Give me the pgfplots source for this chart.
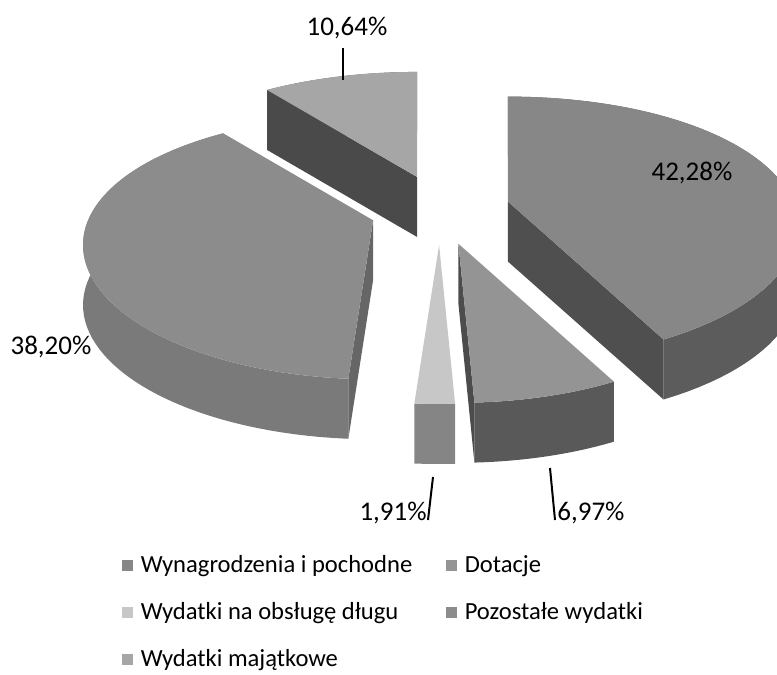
\documentclass[border=0pt]{standalone}
\usepackage{pgfplots}
\pgfplotsset{compat=1.18}
\usepackage{pgfplotstable}
\usepackage{fontspec}
\setmainfont{Carlito}

\definecolor{top0}{gray}{0.53}\definecolor{out0}{gray}{0.36}\definecolor{rad0}{gray}{0.31}
\definecolor{top1}{gray}{0.58}\definecolor{out1}{gray}{0.35}\definecolor{rad1}{gray}{0.30}
\definecolor{top2}{gray}{0.78}\definecolor{out2}{gray}{0.52}\definecolor{rad2}{gray}{0.45}
\definecolor{top3}{gray}{0.55}\definecolor{out3}{gray}{0.48}\definecolor{rad3}{gray}{0.40}
\definecolor{top4}{gray}{0.65}\definecolor{out4}{gray}{0.36}\definecolor{rad4}{gray}{0.29}

% shares of the expenditure (percent)
\pgfplotstableread{
idx value
0 42.28
1 6.97
2 1.91
3 38.20
4 10.64
}\piedata

\def\PCX{440}\def\PCY{210}\def\PEX{70}\def\PEY{35}\def\PD{60}

\pgfplotsset{sq/.style={legend image code/.code={\fill[##1, draw=none] (0pt,-2.6pt) rectangle (5.2pt,2.6pt);}}}

\begin{document}
\begin{tikzpicture}
\begin{axis}[
  scale only axis, width=388.5pt, height=337.5pt,
  xmin=0, xmax=777, ymin=0, ymax=675, y dir=reverse,
  hide axis, clip=true,
  legend cell align=left,
  legend style={at={(axis cs:116,547)}, anchor=north west, draw=none, fill=none,
    font=\fontsize{12.3}{14}\selectfont, legend columns=2, row sep=9.5pt,
    /tikz/every odd column/.append style={column sep=2pt},
    /tikz/every even column/.append style={column sep=15pt}},
]
\addlegendimage{sq, fill=top0}\addlegendentry{Wynagrodzenia i pochodne}
\addlegendimage{sq, fill=top1}\addlegendentry{Dotacje}
\addlegendimage{sq, fill=top2}\addlegendentry{Wydatki na obsługę długu}
\addlegendimage{sq, fill=top3}\addlegendentry{Pozostałe wydatki}
\addlegendimage{sq, fill=top4}\addlegendentry{Wydatki majątkowe}

\gdef\cum{0}
\pgfplotsforeachungrouped \i in {0,...,4}{%
  \pgfplotstablegetelem{\i}{value}\of\piedata
  \let\val\pgfplotsretval
  \pgfmathsetmacro\aA{\cum*3.6}%
  \pgfmathsetmacro\newcum{\cum+\val}%
  \xdef\cum{\newcum}%
  \pgfmathsetmacro\aB{\cum*3.6}%
  \pgfmathsetmacro\bis{(\aA+\aB)/2}%
  \pgfmathsetmacro\Ax{\PCX+\PEX*sin(\bis)}%
  \pgfmathsetmacro\Ay{\PCY-\PEY*cos(\bis)}%
  \pgfmathsetmacro\Ayb{\Ay+\PD}%
  \pgfmathsetmacro\xA{\Ax+(285-55*cos(\aA))*sin(\aA)}%
  \pgfmathsetmacro\yA{\Ay-(132-27*cos(\aA))*cos(\aA)}%
  \pgfmathsetmacro\yAb{\yA+\PD}%
  \pgfmathsetmacro\xB{\Ax+(285-55*cos(\aB))*sin(\aB)}%
  \pgfmathsetmacro\yB{\Ay-(132-27*cos(\aB))*cos(\aB)}%
  \pgfmathsetmacro\yBb{\yB+\PD}%
  \gdef\toparc{}\gdef\botarc{}%
  \foreach \k in {0,...,60}{%
    \pgfmathsetmacro\myt{\aA+(\aB-\aA)*\k/60}%
    \pgfmathsetmacro\ppx{\Ax+(285-55*cos(\myt))*sin(\myt)}%
    \pgfmathsetmacro\ppy{\Ay-(132-27*cos(\myt))*cos(\myt)}%
    \pgfmathsetmacro\ppyb{\ppy+\PD}%
    \xdef\toparc{\toparc -- (axis cs:\ppx,\ppy)}%
    \xdef\botarc{ -- (axis cs:\ppx,\ppyb)\botarc}%
  }%
  % outer wall
  \edef\cmd{\noexpand\fill[out\i] (axis cs:\xA,\yA) \toparc\botarc -- cycle;}\cmd
  % radial walls
  \pgfmathsetmacro\vA{sin(\aA)<-0.01}%
  \ifdim\vA pt>0.5pt
    \edef\cmd{\noexpand\fill[rad\i] (axis cs:\Ax,\Ay) -- (axis cs:\xA,\yA) -- (axis cs:\xA,\yAb) -- (axis cs:\Ax,\Ayb) -- cycle;}\cmd
  \fi
  \pgfmathsetmacro\vB{sin(\aB)>0.01}%
  \ifdim\vB pt>0.5pt
    \edef\cmd{\noexpand\fill[rad\i] (axis cs:\Ax,\Ay) -- (axis cs:\xB,\yB) -- (axis cs:\xB,\yBb) -- (axis cs:\Ax,\Ayb) -- cycle;}\cmd
  \fi
  % top face
  \edef\cmd{\noexpand\fill[top\i] (axis cs:\Ax,\Ay) \toparc -- cycle;}\cmd
}

\draw[line width=1pt] (axis cs:343,48) -- (axis cs:343,80);
\draw[line width=1pt] (axis cs:433,477) -- (axis cs:428,520);
\draw[line width=1pt] (axis cs:550,468) -- (axis cs:555,520);
\begin{scope}[every node/.style={font=\fontsize{13.5}{15}\selectfont, inner sep=0pt}]
\node at (axis cs:347,28) {10,64\%};
\node at (axis cs:692,173) {42,28\%};
\node at (axis cs:51,347) {38,20\%};
\node[anchor=east] at (axis cs:427,513) {1,91\%};
\node[anchor=west] at (axis cs:557,513) {6,97\%};
\end{scope}
\end{axis}
\pgfresetboundingbox
\path (current axis.south west) rectangle (current axis.north east);
\end{tikzpicture}
\end{document}
